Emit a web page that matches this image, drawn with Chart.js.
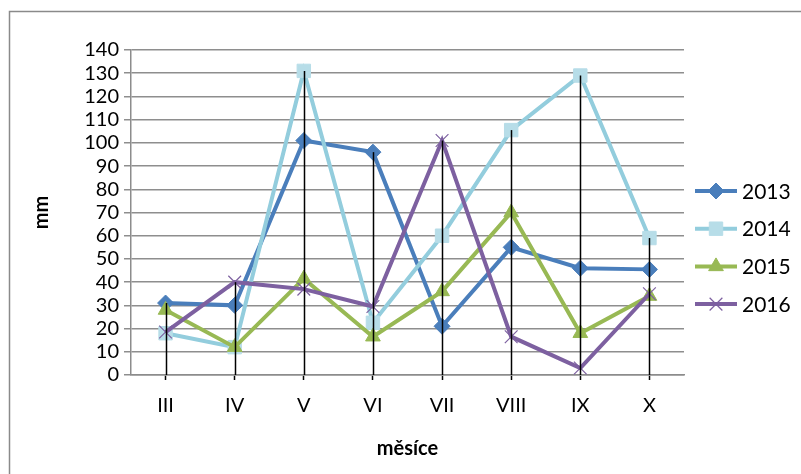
<!DOCTYPE html>
<html>
<head>
<meta charset="utf-8">
<script src="https://cdn.jsdelivr.net/npm/chart.js@4.4.1/dist/chart.umd.min.js"></script>
<style>
  html, body { margin: 0; padding: 0; background: #fff; }
  #wrap { width: 801px; height: 474px; position: relative; }
</style>
</head>
<body>
<div id="wrap"><canvas id="chart" width="801" height="474"></canvas></div>
<script>
const months = ["III", "IV", "V", "VI", "VII", "VIII", "IX", "X"];
const years = ["2013", "2014", "2015", "2016"];
const rain2013 = [31, 30, 101, 96, 21, 55, 46, 45.5];
const rain2014 = [18, 12, 131, 22.5, 60, 105.5, 129, 59];
const rain2015 = [28, 12, 41.5, 16.5, 36, 70, 18, 34];
const rain2016 = [18.5, 40, 37, 29.5, 101, 16.5, 3, 35];
const yTicks = [0, 10, 20, 30, 40, 50, 60, 70, 80, 90, 100, 110, 120, 130, 140];

const series = [rain2013, rain2014, rain2015, rain2016];
const lineColors = ["#4a7ebb", "#93cddd", "#98b954", "#7d60a0"];
const markerColors = ["#4a7ebb", "#b7dde8", "#98b954", "#7d60a0"];
const markers = ["rectRot", "rect", "triangle", "crossRot"];
const markerSizes = [8, 9.5, 8.5, 9];
const FONT = "Lato";

// svislé čáry od maxima k ose
const dropLines = {
    id: "dropLines",
    afterDatasetsDraw(chart) {
        const { ctx, chartArea, scales } = chart;
        ctx.save();
        ctx.strokeStyle = "#000";
        ctx.lineWidth = 1.5;
        months.forEach((m, i) => {
            const top = Math.max(...series.map(s => s[i]));
            const x = Math.round(scales.x.getPixelForValue(i)) + 0.5;
            ctx.beginPath();
            ctx.moveTo(x, scales.y.getPixelForValue(top));
            ctx.lineTo(x, chartArea.bottom);
            ctx.stroke();
        });
        ctx.restore();
    }
};

// rámeček a legenda vpravo
const frameLegend = {
    id: "frameLegend",
    beforeDraw(chart) {
        const ctx = chart.ctx;
        ctx.save();
        ctx.strokeStyle = "#8a8a8a";
        ctx.lineWidth = 1.5;
        ctx.strokeRect(9.5, 11.5, 900, 600);
        ctx.restore();
    },
    afterDraw(chart) {
        const ctx = chart.ctx;
        ctx.save();
        chart.data.datasets.forEach((ds, i) => {
            const y = 191 + i * 37.7;
            ctx.strokeStyle = ds.borderColor;
            ctx.lineWidth = 4;
            ctx.beginPath();
            ctx.moveTo(695, y);
            ctx.lineTo(737, y);
            ctx.stroke();
            ctx.fillStyle = ds.pointBackgroundColor;
            ctx.strokeStyle = ds.pointBorderColor;
            ctx.lineWidth = ds.pointBorderWidth;
            Chart.helpers.drawPoint(ctx, {
                pointStyle: ds.pointStyle,
                radius: ds.pointRadius,
                borderWidth: ds.pointBorderWidth,
                rotation: 0
            }, 716, y);
            ctx.fillStyle = "#000";
            ctx.font = "21px " + FONT;
            ctx.textBaseline = "middle";
            ctx.textAlign = "left";
            ctx.fillText(years[i], 742, y + 1);
        });
        ctx.restore();
    }
};

new Chart(document.getElementById("chart"), {
    type: "line",
    data: {
        labels: months,
        datasets: series.map((s, i) => ({
            label: years[i],
            data: s,
            borderColor: lineColors[i],
            borderWidth: 4,
            backgroundColor: markerColors[i],
            pointStyle: markers[i],
            pointRadius: markerSizes[i],
            pointBackgroundColor: markerColors[i],
            pointBorderColor: markerColors[i],
            pointBorderWidth: i === 3 ? 1.2 : 1,
            tension: 0,
            order: 3 - i
        }))
    },
    options: {
        responsive: false,
        animation: false,
        layout: { padding: { left: 10, top: 50, right: 117, bottom: 0 } },
        plugins: {
            legend: { display: false },
            tooltip: { enabled: false }
        },
        scales: {
            x: {
                offset: true,
                grid: {
                    offset: false,
                    drawOnChartArea: false,
                    color: "#000",
                    tickLength: 5,
                    tickWidth: 1.5
                },
                border: { color: "#8c8c8c", width: 1.5 },
                ticks: { color: "#000", padding: 14, font: { family: FONT, size: 20 } },
                title: {
                    display: true,
                    text: "měsíce",
                    color: "#000",
                    font: { family: FONT, size: 20, weight: "bold" },
                    padding: { top: 0, bottom: 13 }
                },
                afterFit(scale) { scale.height = 99; }
            },
            y: {
                min: 0,
                max: 140,
                afterBuildTicks(scale) { scale.ticks = yTicks.map(v => ({ value: v })); },
                grid: { color: "#8e8e8e", lineWidth: 1.5, tickLength: 7 },
                border: { color: "#8c8c8c", width: 1.5 },
                ticks: { color: "#000", padding: 5, autoSkip: false, font: { family: FONT, size: 20 } },
                title: {
                    display: true,
                    text: "mm",
                    color: "#000",
                    font: { family: FONT, size: 20, weight: "bold" },
                    padding: { top: 20, bottom: 0 }
                },
                afterFit(scale) { scale.width = 121; }
            }
        }
    },
    plugins: [dropLines, frameLegend]
});
</script>
</body>
</html>
